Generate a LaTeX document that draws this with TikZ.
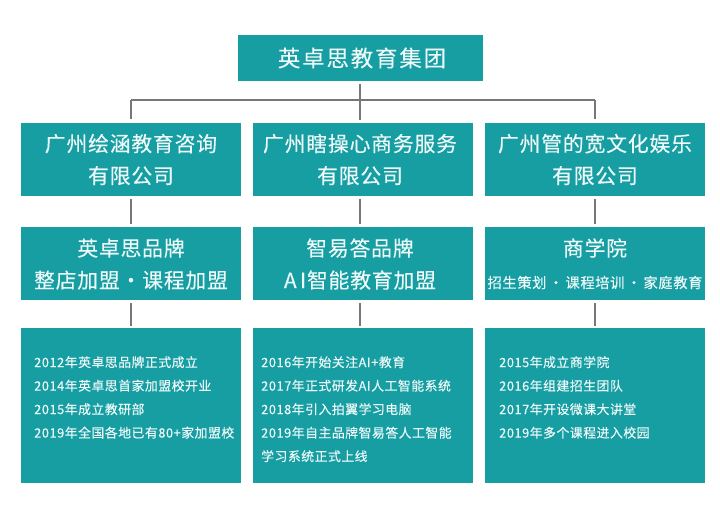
\documentclass[tikz,border=0pt]{standalone}
\usepackage{fontspec}
\setmainfont{Noto Sans CJK SC}
\newfontfamily\cjkA[LetterSpace=8,FakeBold=0.15]{Noto Sans CJK SC}
\newfontfamily\cjkB[LetterSpace=4,FakeBold=0.15]{Noto Sans CJK SC}
\newcommand\lft{\hspace*{-6pt}}
\definecolor{teal1}{HTML}{169EA3}
\definecolor{ink}{HTML}{EEFAFA}
\definecolor{wire}{HTML}{777777}
\tikzset{
  box/.style={fill=teal1,draw=none,inner sep=0pt,text=ink,align=center,minimum width=220pt,minimum height=73pt},
  topbox/.style={box,minimum width=245pt,minimum height=46pt,font=\cjkA\fontsize{22.5}{28}\selectfont},
  midbox/.style={box,text height=55pt,text depth=6pt,font=\cjkB\fontsize{20.8}{32}\selectfont},
  infobox/.style={box,minimum height=155pt},
  listtext/.style={anchor=north west,inner sep=0pt,text=ink,align=left,font=\cjkB\fontsize{12.85}{23.5}\selectfont},
  wirelink/.style={draw=wire,line width=1.3pt}
}
\begin{document}
\begin{tikzpicture}[x=1pt,y=-1pt]
\useasboundingbox (0,0) rectangle (720,509);
\node[topbox] (top) at (360,58) {\hspace*{4pt}英卓思教育集团};
\node[midbox] (a1) at (131,159) {广州绘涵教育咨询\\有限公司};
\node[midbox] (b1) at (363,159) {\lft 广州瞎操心商务服务\\\lft 有限公司};
\node[midbox] (c1) at (595,159) {广州管的宽文化娱乐\\有限公司};
\node[midbox] (a2) at (131,263.5) {英卓思品牌\\整店加盟·课程加盟};
\node[midbox] (b2) at (363,263.5) {\lft 智易答品牌\\\lft A\,I智能教育加盟};
\node[midbox] (c2) at (595,263.5) {商学院\\{\fontsize{14.3}{32}\selectfont 招生策划\,·\,课程培训\,·\,家庭教育}};
\node[infobox] (a3) at (131,405.5) {};
\node[infobox] (b3) at (363,405.5) {};
\node[infobox] (c3) at (595,405.5) {};
\node[listtext] (a3t) at (34,356) {2012年英卓思品牌正式成立\\2014年英卓思首家加盟校开业\\2015年成立教研部\\2019年全国各地已有80+家加盟校};
\node[listtext] (b3t) at (261,356) {2016年开始关注AI+教育\\2017年正式研发AI人工智能系统\\2018年引入拍翼学习电脑\\2019年自主品牌智易答人工智能\\学习系统正式上线};
\node[listtext] (c3t) at (499,356) {2015年成立商学院\\2016年组建招生团队\\2017年开设微课大讲堂\\2019年多个课程进入校园};
\coordinate (jl) at (131,100);
\coordinate (jr) at (595,100);
\draw[wirelink,shorten <=3pt,shorten >=2pt] (top.south) -- (top.south |- b1.north);
\draw[wirelink] (jl) -- (jr);
\draw[wirelink,shorten >=3pt] (jl) -- (a1.north);
\draw[wirelink,shorten >=3pt] (jr) -- (c1.north);
\draw[wirelink,shorten <=3pt,shorten >=3pt] (a1.south) -- (a2.north);
\draw[wirelink,shorten <=3pt,shorten >=3pt] (c1.south) -- (c2.north);
\draw[wirelink,shorten <=3pt,shorten >=2pt] (a2.south) -- (a3.north);
\draw[wirelink,shorten <=3pt,shorten >=2pt] (c2.south) -- (c3.north);
\draw[wirelink,shorten <=3pt,shorten >=3pt] (top.south |- b1.south) -- (top.south |- b2.north);
\draw[wirelink,shorten <=3pt,shorten >=2pt] (top.south |- b2.south) -- (top.south |- b3.north);
\end{tikzpicture}
\end{document}
